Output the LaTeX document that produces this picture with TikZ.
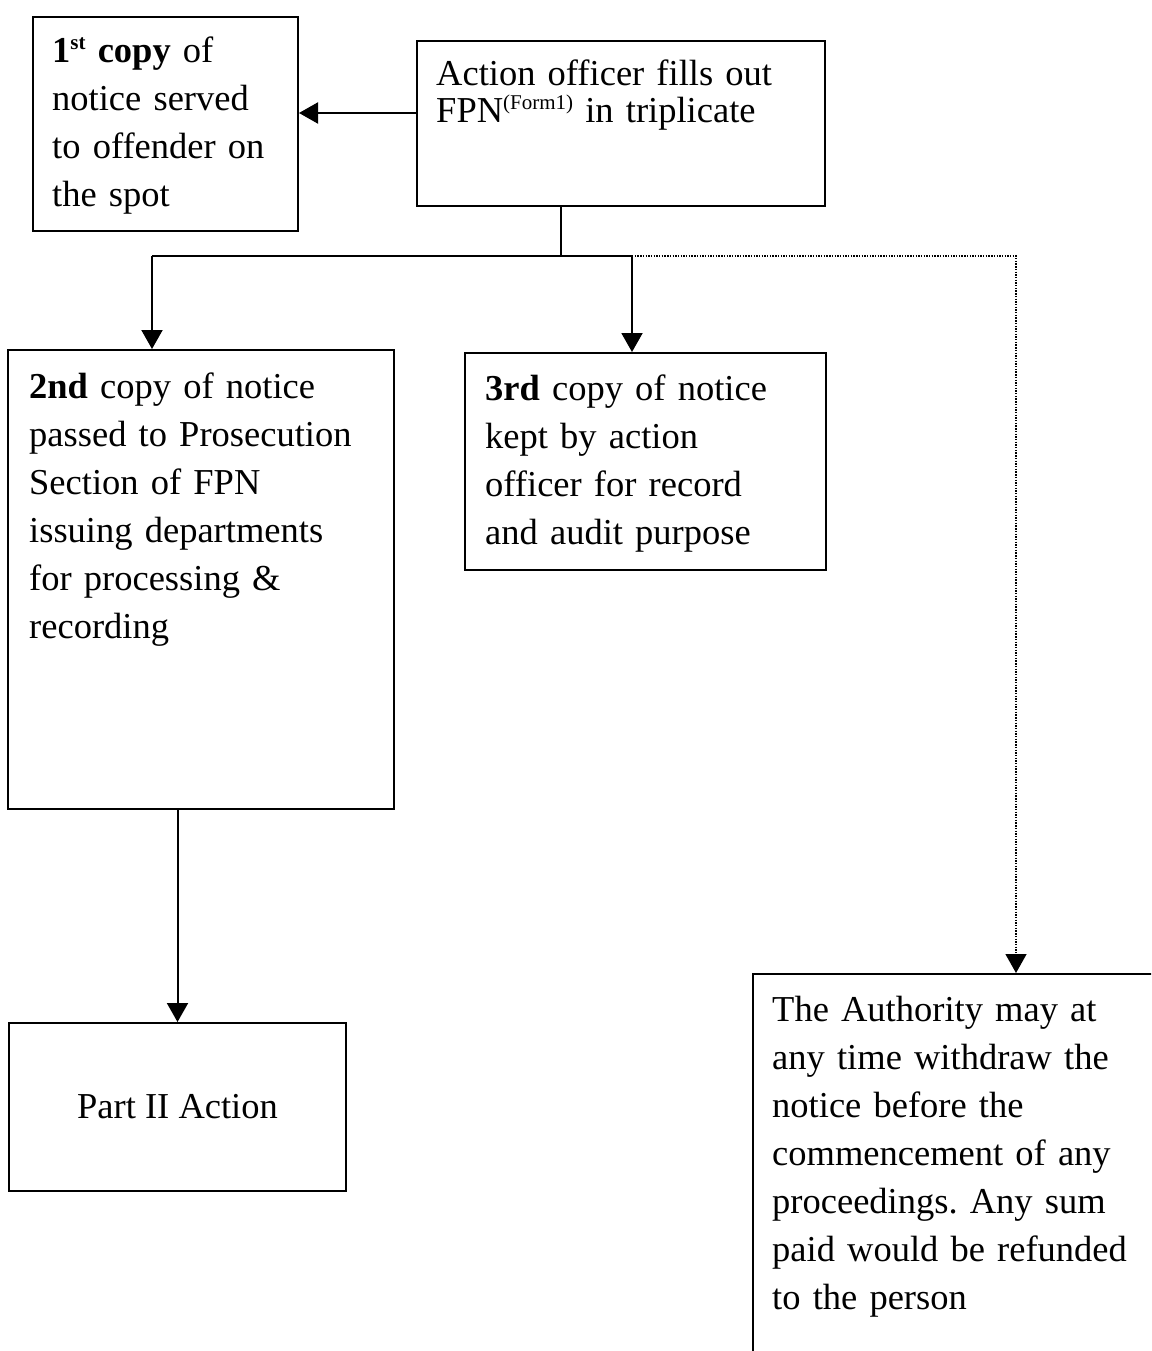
\documentclass[tikz,border=0pt]{standalone}
\usepackage{fontspec}
\setmainfont{Liberation Serif}
\usetikzlibrary{arrows.meta}
\frenchspacing

% small raised text for ordinal and form markers
\newcommand{\upmark}[1]{\raisebox{0.36em}{\fontsize{21}{21}\selectfont #1}}

\tikzset{
  box/.style={draw, line width=2pt, inner sep=0pt, anchor=north west},
  txt/.style={inner sep=0pt, anchor=base west, text width=420pt, align=left,
              font=\fontsize{36.5}{48}\selectfont},
  link/.style={line width=2pt},
  arr/.style={link, -{Triangle[length=19pt,width=21pt]}},
  dotarr/.style={line width=1.4pt, dash pattern=on 1.4pt off 1.3pt, color=black,
                 -{Triangle[length=19pt,width=21pt]}}
}

\begin{document}
\begin{tikzpicture}[x=1pt,y=-1pt]
  \useasboundingbox (0,0) rectangle (1151,1351);
  \clip (0,0) rectangle (1151,1351);
  \fill[white] (0,0) rectangle (1151,1351);

  % frames
  \node[box, minimum width=265pt, minimum height=214pt] (b1) at (32,16) {};
  \node[box, minimum width=408pt, minimum height=165pt] (b2) at (416,40) {};
  \node[box, minimum width=386pt, minimum height=459pt] (b3) at (7,349) {};
  \node[box, minimum width=361pt, minimum height=217pt] (b4) at (464,352) {};
  \node[box, minimum width=337pt, minimum height=168pt] (b5) at (8,1022) {};
  \node[box, minimum width=460pt, minimum height=460pt] (b6) at (752,973) {};

  % texts
  \node[txt] (t1) at (52,63) {\textbf{1\upmark{st} copy} of\\notice served\\to offender on\\the spot};
  \node[txt, font=\fontsize{36.5}{37}\selectfont] (t2) at (436,86) {Action officer fills out\\FPN\upmark{(Form1)} in triplicate};
  \node[txt] (t3) at (29,398) {\textbf{2nd} copy of notice\\passed to Prosecution\\Section of FPN\\issuing departments\\for processing \&\\recording};
  \node[txt] (t4) at (485,400) {\textbf{3rd} copy of notice\\kept by action\\officer for record\\and audit purpose};
  \node[inner sep=0pt, font=\fontsize{36.5}{48}\selectfont] (t5) at (b5.center) {Part II Action};
  \node[txt] (t6) at (772,1021) {The Authority may at\\any time withdraw the\\notice before the\\commencement of any\\proceedings. Any sum\\paid would be refunded\\to the person};

  % connectors
  \coordinate (split) at (561,256);
  \coordinate (left) at (152,256);
  \coordinate (mid) at (632,256);
  \coordinate (far) at (1016,256);

  \draw[arr] (b2.west |- 0,113) -- (b1.east |- 0,113);
  \draw[link] (b2.south -| split) -- (split);
  \draw[link] (left) -- (mid);
  \draw[arr] (left) -- (left |- b3.north);
  \draw[arr] (mid) -- (mid |- b4.north);
  \draw[dotarr] (mid) -- (far) -- (far |- b6.north);
  \draw[arr] (b3.south -| b5.north) -- (b5.north);
\end{tikzpicture}
\end{document}
